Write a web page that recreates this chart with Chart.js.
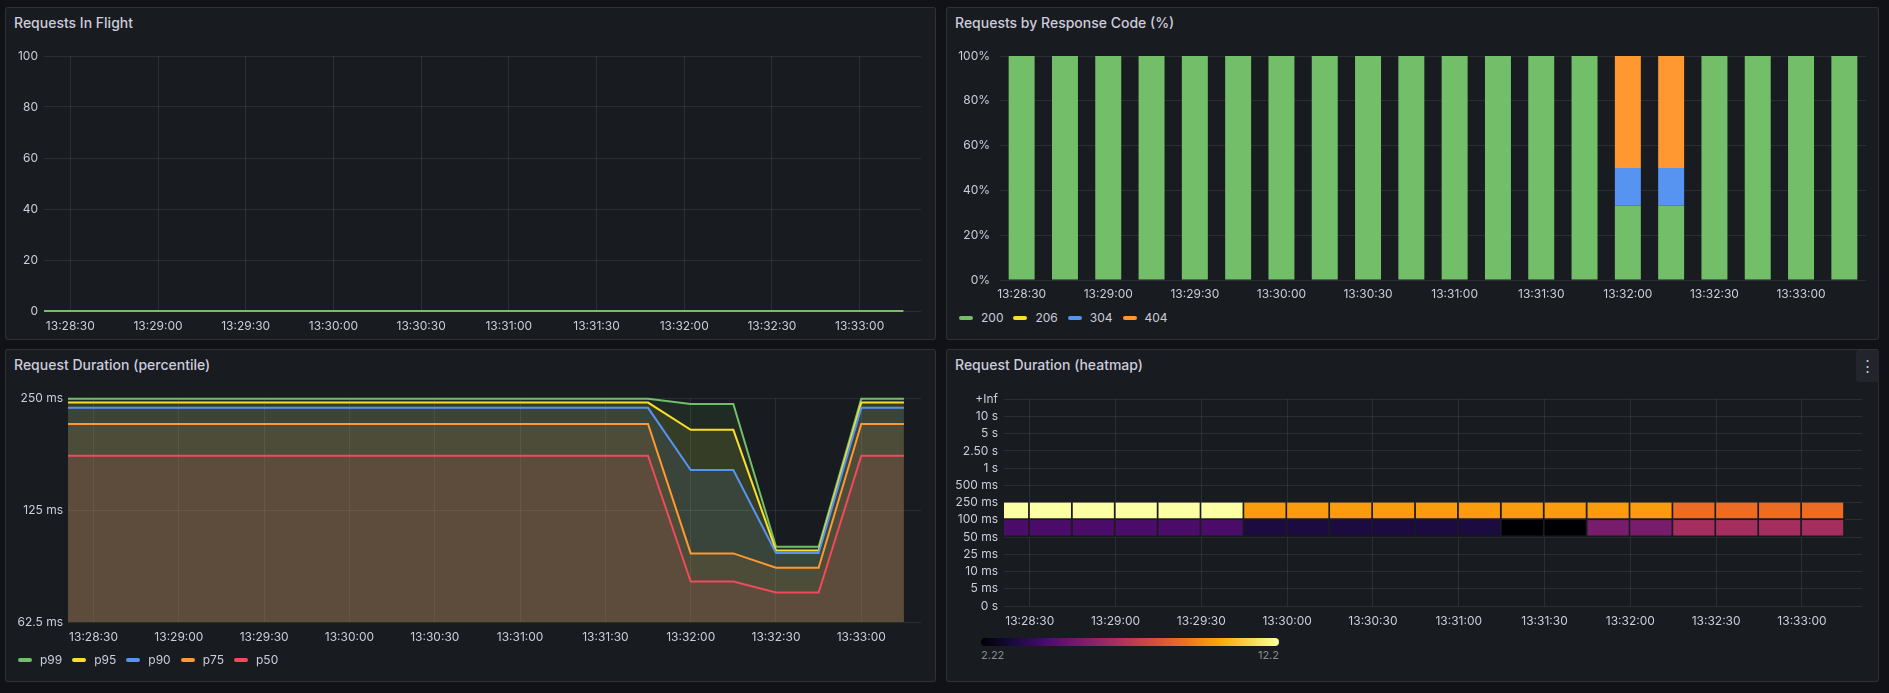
<!DOCTYPE html>
<html>
<head>
<meta charset="utf-8">
<script src="https://cdn.jsdelivr.net/npm/chart.js@4.4.0/dist/chart.umd.min.js"></script>
<style>
  html, body { margin: 0; padding: 0; background: #111217; width: 1889px; height: 693px; overflow: hidden; font-family: Inter, 'Noto Sans', sans-serif; }
  .panel { position: absolute; background: #181b1f; border: 1px solid rgba(204,204,220,0.12); border-radius: 3px; box-sizing: border-box; }
  .title { position: absolute; left: 8px; top: 6px; font-size: 14px; font-weight: 500; color: #ccccdc; line-height: 18px; white-space: nowrap; }
  canvas { position: absolute; }
  .legend { position: absolute; display: flex; gap: 10px; font-size: 12px; color: #ccccdc; line-height: 16px; }
  .legend .item { display: flex; align-items: center; }
  .legend i { display: inline-block; width: 14px; height: 4px; border-radius: 2px; margin-right: 8px; }
  .menu { position: absolute; left: 1856px; top: 350px; width: 23px; height: 32px; background: #22252b; border-radius: 3px; color: #ccccdc; font-size: 15px; line-height: 32px; text-align: center; }
  .scale-bar { position: absolute; left: 981px; top: 638px; width: 298px; height: 8px; border-radius: 4px; }
  .scale-label { position: absolute; top: 648px; font-size: 11px; line-height: 14px; color: rgba(204,204,220,0.65); }
</style>
</head>
<body>
<div class="panel" style="left:5px;top:7px;width:931px;height:333px"><div class="title">Requests In Flight</div></div>
<div class="panel" style="left:946px;top:7px;width:933px;height:333px"><div class="title">Requests by Response Code (%)</div></div>
<div class="panel" style="left:5px;top:349px;width:931px;height:333px"><div class="title">Request Duration (percentile)</div></div>
<div class="panel" style="left:946px;top:349px;width:933px;height:333px"><div class="title">Request Duration (heatmap)</div></div>
<div class="menu">&#8942;</div>

<canvas id="c1" width="931" height="300" style="left:6px;top:37px"></canvas>
<canvas id="c2" width="932" height="267" style="left:947px;top:37px"></canvas>
<canvas id="c3" width="931" height="268" style="left:6px;top:386px"></canvas>
<canvas id="c4" width="932" height="250" style="left:947px;top:386px"></canvas>

<div class="legend" id="leg2" style="left:959px;top:310px"></div>
<div class="legend" id="leg3" style="left:18px;top:652px"></div>
<div class="scale-bar" id="scaleBar"></div>
<div class="scale-label" id="scaleMin" style="left:981px"></div>
<div class="scale-label" id="scaleMax" style="left:1179px;width:100px;text-align:right"></div>

<script>
// ---- data ----
const rangeStart = '13:28:21';
const rangeEnd = '13:33:21';
const timeTicks = ['13:28:30', '13:29:00', '13:29:30', '13:30:00', '13:30:30',
    '13:31:00', '13:31:30', '13:32:00', '13:32:30', '13:33:00'];

const sampleTimes = ['13:28:15', '13:28:30', '13:28:45', '13:29:00', '13:29:15', '13:29:30',
    '13:29:45', '13:30:00', '13:30:15', '13:30:30', '13:30:45', '13:31:00', '13:31:15',
    '13:31:30', '13:31:45', '13:32:00', '13:32:15', '13:32:30', '13:32:45', '13:33:00', '13:33:15'];

const inFlight = [0, 0, 0, 0, 0, 0, 0, 0, 0, 0, 0, 0, 0, 0, 0, 0, 0, 0, 0, 0, 0];

const barTimes = ['13:28:30', '13:28:45', '13:29:00', '13:29:15', '13:29:30', '13:29:45',
    '13:30:00', '13:30:15', '13:30:30', '13:30:45', '13:31:00', '13:31:15', '13:31:30',
    '13:31:45', '13:32:00', '13:32:15', '13:32:30', '13:32:45', '13:33:00', '13:33:15'];
const codeLabels = ['200', '206', '304', '404'];
const code200 = [100, 100, 100, 100, 100, 100, 100, 100, 100, 100, 100, 100, 100, 100, 33.3, 33.3, 100, 100, 100, 100];
const code206 = [0, 0, 0, 0, 0, 0, 0, 0, 0, 0, 0, 0, 0, 0, 0, 0, 0, 0, 0, 0];
const code304 = [0, 0, 0, 0, 0, 0, 0, 0, 0, 0, 0, 0, 0, 0, 16.7, 16.7, 0, 0, 0, 0];
const code404 = [0, 0, 0, 0, 0, 0, 0, 0, 0, 0, 0, 0, 0, 0, 50, 50, 0, 0, 0, 0];

const pctLabels = ['p99', 'p95', 'p90', 'p75', 'p50'];
const p99 = [249, 249, 249, 249, 249, 249, 249, 249, 249, 249, 249, 249, 249, 249, 249, 241.3, 241.3, 99.6, 99.6, 249, 249];
const p95 = [243.3, 243.3, 243.3, 243.3, 243.3, 243.3, 243.3, 243.3, 243.3, 243.3, 243.3, 243.3, 243.3, 243.3, 243.3, 205.5, 205.5, 97.4, 97.4, 243.3, 243.3];
const p90 = [235.5, 235.5, 235.5, 235.5, 235.5, 235.5, 235.5, 235.5, 235.5, 235.5, 235.5, 235.5, 235.5, 235.5, 235.5, 160.3, 160.3, 95.8, 95.8, 235.5, 235.5];
const p75 = [213.2, 213.2, 213.2, 213.2, 213.2, 213.2, 213.2, 213.2, 213.2, 213.2, 213.2, 213.2, 213.2, 213.2, 213.2, 95.6, 95.6, 87.5, 87.5, 213.2, 213.2];
const p50 = [175, 175, 175, 175, 175, 175, 175, 175, 175, 175, 175, 175, 175, 175, 175, 80.3, 80.3, 75, 75, 175, 175];
const durationTicks = [62.5, 125, 250];

const heatBuckets = ['0 s', '5 ms', '10 ms', '25 ms', '50 ms', '100 ms', '250 ms',
    '500 ms', '1 s', '2.50 s', '5 s', '10 s', '+Inf'];
const heatStep = 15;
const heatTimes = ['13:28:15', '13:28:30', '13:28:45', '13:29:00', '13:29:15', '13:29:30',
    '13:29:45', '13:30:00', '13:30:15', '13:30:30', '13:30:45', '13:31:00', '13:31:15',
    '13:31:30', '13:31:45', '13:32:00', '13:32:15', '13:32:30', '13:32:45', '13:33:00'];
const heatLe250 = [12.2, 12.2, 12.2, 12.2, 12.2, 12.2, 10, 10, 10, 10, 10, 10, 10, 10, 10, 10, 8.89, 8.89, 8.89, 8.89];
const heatLe100 = [4.44, 4.44, 4.44, 4.44, 4.44, 4.44, 3.33, 3.33, 3.33, 3.33, 3.33, 3.33, 2.22, 2.22, 5.56, 5.56, 6.67, 6.67, 6.67, 6.67];

// inferno palette
const inferno = ['#000004', '#160b39', '#420a68', '#6a176e', '#932667', '#bc3754',
    '#dd513a', '#f37819', '#fca50a', '#f6d746', '#fcffa4'];

// ---- helpers ----
const GREEN = '#73bf69', YELLOW = '#fade2a', BLUE = '#5794f2', ORANGE = '#ff9830', RED = '#f2495c';
const gridColor = 'rgba(204,204,220,0.1)';
const textColor = '#ccccdc';
const tickFont = { family: 'Inter', size: 12 };

Chart.defaults.font.family = 'Inter';
Chart.defaults.color = textColor;

function toSec(t) {
    const [h, m, s] = t.split(':').map(Number);
    return h * 3600 + m * 60 + s;
}
function fmtTime(sec) {
    const p = (n) => String(n).padStart(2, '0');
    return p(Math.floor(sec / 3600)) + ':' + p(Math.floor(sec / 60) % 60) + ':' + p(sec % 60);
}
function hexRgb(h) {
    return [1, 3, 5].map((i) => parseInt(h.slice(i, i + 2), 16));
}
function infernoColor(v, lo, hi) {
    const t = Math.min(1, Math.max(0, (v - lo) / (hi - lo))) * (inferno.length - 1);
    const i = Math.min(inferno.length - 2, Math.floor(t));
    const f = t - i;
    const a = hexRgb(inferno[i]), b = hexRgb(inferno[i + 1]);
    const c = a.map((x, k) => Math.round(x + (b[k] - x) * f));
    return `rgb(${c[0]},${c[1]},${c[2]})`;
}
function alpha(hex, a) {
    const [r, g, b] = hexRgb(hex);
    return `rgba(${r},${g},${b},${a})`;
}

function timeScale(height) {
    return {
        type: 'linear',
        offset: false,
        min: toSec(rangeStart),
        max: toSec(rangeEnd),
        border: { display: false },
        grid: { color: gridColor, drawTicks: false, offset: false },
        ticks: { color: textColor, font: tickFont, padding: 8, maxRotation: 0, autoSkip: false, callback: (v) => fmtTime(v) },
        afterBuildTicks: (s) => { s.ticks = timeTicks.map((t) => ({ value: toSec(t) })); },
        afterFit: (s) => { s.height = height; },
    };
}

const baseOptions = (padding) => ({
    responsive: false,
    animation: false,
    devicePixelRatio: 1,
    layout: { padding },
    plugins: { legend: { display: false }, tooltip: { enabled: false } },
});

function buildLegend(id, labels, colors) {
    const el = document.getElementById(id);
    labels.forEach((l, i) => {
        const item = document.createElement('span');
        item.className = 'item';
        item.innerHTML = `<i style="background:${colors[i]}"></i>${l}`;
        el.appendChild(item);
    });
}

// ---- Requests In Flight ----
new Chart(document.getElementById('c1'), {
    type: 'line',
    data: {
        datasets: [{
            label: 'in flight',
            data: sampleTimes.map((t, i) => ({ x: toSec(t), y: inFlight[i] })),
            borderColor: GREEN,
            borderWidth: 2,
            pointRadius: 0,
            clip: { left: 0, right: 0, top: 2, bottom: 2 },
        }],
    },
    options: {
        ...baseOptions({ left: 0, right: 16, top: 19, bottom: 0 }),
        scales: {
            x: timeScale(26),
            y: {
                min: 0, max: 100,
                border: { display: false },
                grid: { color: gridColor, drawTicks: false },
                ticks: { stepSize: 20, color: textColor, font: tickFont, padding: 6 },
                afterFit: (s) => { s.width = 38; },
            },
        },
    },
});

// ---- Requests by Response Code ----
const codeColors = [GREEN, YELLOW, BLUE, ORANGE];
const codeSeries = [code200, code206, code304, code404];
new Chart(document.getElementById('c2'), {
    type: 'bar',
    data: {
        labels: barTimes,
        datasets: codeSeries.map((d, i) => ({
            label: codeLabels[i],
            data: d,
            backgroundColor: codeColors[i],
            barPercentage: 0.6,
            categoryPercentage: 1,
            borderWidth: 0,
        })),
    },
    options: {
        ...baseOptions({ left: 0, right: 13, top: 19, bottom: 0 }),
        scales: {
            x: {
                stacked: true,
                border: { display: false },
                grid: { display: false, drawTicks: false },
                ticks: {
                    color: textColor, font: tickFont, padding: 7, maxRotation: 0, autoSkip: false,
                    callback: (v, i) => (i % 2 === 0 ? barTimes[i] : ''),
                },
                afterFit: (s) => { s.height = 24; },
            },
            y: {
                stacked: true,
                min: 0, max: 100,
                border: { display: false },
                grid: { color: gridColor, drawTicks: false },
                ticks: { stepSize: 20, color: textColor, font: tickFont, padding: 10, callback: (v) => v + '%' },
                afterFit: (s) => { s.width = 53; },
            },
        },
    },
});
buildLegend('leg2', codeLabels, codeColors);

// ---- Request Duration (percentile) ----
const pctColors = [GREEN, YELLOW, BLUE, ORANGE, RED];
const pctSeries = [p99, p95, p90, p75, p50];
new Chart(document.getElementById('c3'), {
    type: 'line',
    data: {
        datasets: pctSeries.map((d, i) => ({
            label: pctLabels[i],
            data: sampleTimes.map((t, k) => ({ x: toSec(t), y: d[k] })),
            borderColor: pctColors[i],
            backgroundColor: alpha(pctColors[i], 0.1),
            fill: 'start',
            borderWidth: 2,
            pointRadius: 0,
            tension: 0,
            order: -i, // p99 painted first, p50 last
            clip: { left: 0, right: 0, top: 3, bottom: 0 },
        })),
    },
    options: {
        ...baseOptions({ left: 0, right: 16, top: 12, bottom: 0 }),
        scales: {
            x: timeScale(32),
            y: {
                type: 'logarithmic',
                min: 62.5, max: 250,
                border: { display: false },
                grid: { color: gridColor, drawTicks: false },
                ticks: { color: textColor, font: tickFont, padding: 5, autoSkip: false, callback: (v) => v + ' ms' },
                afterBuildTicks: (s) => { s.ticks = durationTicks.map((v) => ({ value: v })); },
                afterFit: (s) => { s.width = 62; },
            },
        },
    },
});
buildLegend('leg3', pctLabels, pctColors);

// ---- Request Duration (heatmap) ----
const allHeat = heatLe250.concat(heatLe100);
const heatMin = Math.min(...allHeat);
const heatMax = Math.max(...allHeat);
const heatRows = [
    { values: heatLe250, lo: heatBuckets.indexOf('100 ms'), hi: heatBuckets.indexOf('250 ms') },
    { values: heatLe100, lo: heatBuckets.indexOf('50 ms'), hi: heatBuckets.indexOf('100 ms') },
];
new Chart(document.getElementById('c4'), {
    type: 'bar',
    data: {
        datasets: heatRows.map((row) => ({
            data: heatTimes.map((t) => ({ x: toSec(t) + heatStep / 2, y: [row.lo, row.hi] })),
            backgroundColor: row.values.map((v) => infernoColor(v, heatMin, heatMax)),
            borderColor: '#181b1f',
            borderWidth: { top: 0, left: 0, right: 2, bottom: 2 },
            borderSkipped: false,
            grouped: false,
            barPercentage: 1,
            categoryPercentage: 1,
        })),
    },
    options: {
        ...baseOptions({ left: 0, right: 17, top: 12, bottom: 0 }),
        scales: {
            x: timeScale(30),
            y: {
                min: 0, max: heatBuckets.length - 1,
                border: { display: false },
                grid: { color: gridColor, drawTicks: false },
                ticks: { color: textColor, font: tickFont, padding: 6, autoSkip: false, callback: (v) => heatBuckets[v] },
                afterBuildTicks: (s) => { s.ticks = heatBuckets.map((b, i) => ({ value: i })); },
                afterFit: (s) => { s.width = 57; },
            },
        },
    },
});

document.getElementById('scaleBar').style.background =
    'linear-gradient(to right,' + inferno.join(',') + ')';
document.getElementById('scaleMin').textContent = String(heatMin);
document.getElementById('scaleMax').textContent = String(heatMax);
</script>
</body>
</html>
